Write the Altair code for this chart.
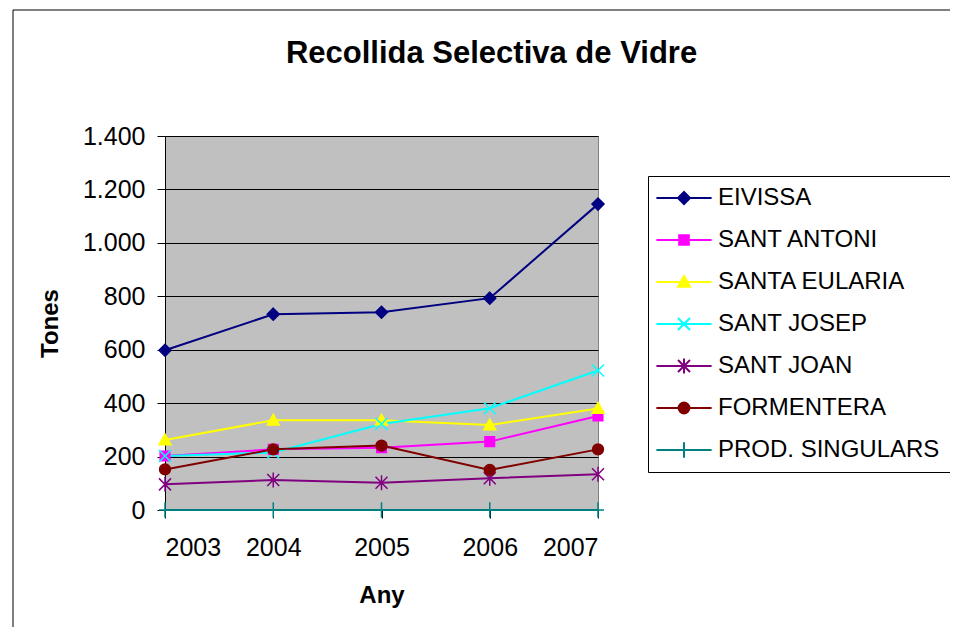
import altair as alt
import pandas as pd

years = [2003, 2004, 2005, 2006, 2007]
series = ["EIVISSA", "SANT ANTONI", "SANTA EULARIA", "SANT JOSEP",
          "SANT JOAN", "FORMENTERA", "PROD. SINGULARS"]
eivissa = [598, 733, 740, 793, 1145]
sant_antoni = [202, 227, 233, 256, 352]
santa_eularia = [262, 336, 336, 318, 380]
sant_josep = [202, 215, 322, 381, 522]
sant_joan = [96, 112, 102, 119, 134]
formentera = [152, 227, 241, 150, 227]
prod_singulars = [0, 0, 0, 0, 0]
y_ticks = [0, 200, 400, 600, 800, 1000, 1200, 1400]

colors = ["#000080", "#FF00FF", "#FFFF00", "#00FFFF", "#800080", "#800000", "#008080"]
markers = [
    "M0,-1L1,0L0,1L-1,0Z",
    "M-0.8,-0.8H0.8V0.8H-0.8Z",
    "M0,-1L1,0.8L-1,0.8Z",
    "M-1,-1L1,1M-1,1L1,-1",
    "M-1,-1L1,1M-1,1L1,-1M0,-1.25V1.25",
    "M-0.9,0A0.9,0.9,0,1,1,0.9,0A0.9,0.9,0,1,1,-0.9,0Z",
    "M-1,0H1M0,-1.3V1.3",
]
legend_paths = ["M-4.6,0H4.6" + m for m in markers]

values_by_series = [eivissa, sant_antoni, santa_eularia, sant_josep,
                    sant_joan, formentera, prod_singulars]
rows = []
for s, vals, m in zip(series, values_by_series, markers):
    for yr, v in zip(years, vals):
        rows.append({"year": yr, "tones": v, "series": s, "marker": m})
df = pd.DataFrame(rows)

FONT = "Liberation Sans"
color_scale = alt.Scale(domain=series, range=colors)
stroke_scale = alt.Scale(domain=series, range=colors)

legend_def = alt.Legend(title=None, orient="none", legendX=483, legendY=40,
                        labelFontSize=24, labelFont=FONT, labelColor="black",
                        symbolSize=144, symbolOffset=14, labelOffset=22,
                        rowPadding=18, padding=10, strokeColor="black",
                        fillColor="white", symbolStrokeWidth=2, symbolOpacity=1,
                        labelLimit=400)

x_enc = alt.X("year:Q", scale=alt.Scale(domain=[2003, 2007], nice=False, zero=False),
              axis=alt.Axis(values=years, format="d", grid=False, title="Any",
                            tickSize=8, tickColor="black", domainColor="black",
                            labelFontSize=25, labelPadding=17, titlePadding=23,
                            titleFontSize=24, titleFontWeight="bold"))
y_enc = alt.Y("tones:Q", scale=alt.Scale(domain=[0, 1400], nice=False),
              axis=alt.Axis(values=y_ticks, title="Tones", grid=True, gridColor="black",
                            gridOpacity=1, gridWidth=1, tickSize=8, tickColor="black",
                            domainColor="black",
                            labelExpr="replace(format(datum.value, ','), ',', '.')",
                            labelFontSize=25, labelPadding=12, titlePadding=20,
                            titleFontSize=24, titleFontWeight="bold"))

base = alt.Chart(df)

lines = base.mark_line(strokeWidth=2).encode(
    x=x_enc, y=y_enc,
    color=alt.Color("series:N", scale=color_scale, legend=legend_def),
    detail="series:N",
)

points = base.mark_point(filled=True, size=144, strokeWidth=1.5, opacity=1).encode(
    x="year:Q", y="tones:Q",
    color=alt.Color("series:N", scale=color_scale, legend=legend_def),
    stroke=alt.Stroke("series:N", scale=stroke_scale, legend=legend_def),
    shape=alt.Shape("marker:N", scale=None),
)

legend_layer = base.mark_point(filled=True, size=144, strokeWidth=2, opacity=1).encode(
    x="year:Q", y="tones:Q",
    color=alt.Color("series:N", scale=color_scale, legend=legend_def),
    stroke=alt.Stroke("series:N", scale=stroke_scale, legend=legend_def),
    shape=alt.Shape("series:N", scale=alt.Scale(domain=series, range=legend_paths), legend=legend_def),
).transform_filter("datum.tones < 0")

frame = alt.Chart(alt.Data(values=[{}])).mark_rect(
    fill=None, stroke="black", strokeWidth=1, clip=False
).encode(x=alt.value(-152), x2=alt.value(900), y=alt.value(-126), y2=alt.value(600))

chart = alt.layer(frame, lines, points, legend_layer).properties(
    width=433, height=374,
    title=alt.Title("Recollida Selectiva de Vidre", fontSize=31, font=FONT,
                    fontWeight="bold", anchor="middle", frame="group", dx=110,
                    baseline="alphabetic", offset=-84),
    autosize=alt.AutoSizeParams(type="none"),
    padding={"left": 157, "top": 128, "right": 352, "bottom": 117},
).configure(
    font=FONT,
).configure_view(
    fill="#C0C0C0", stroke="#808080", strokeWidth=1
).configure_axis(
    labelFont=FONT, titleFont=FONT, labelColor="black", titleColor="black"
)

chart.save("out.html", embed_options={"renderer": "svg", "actions": False})
